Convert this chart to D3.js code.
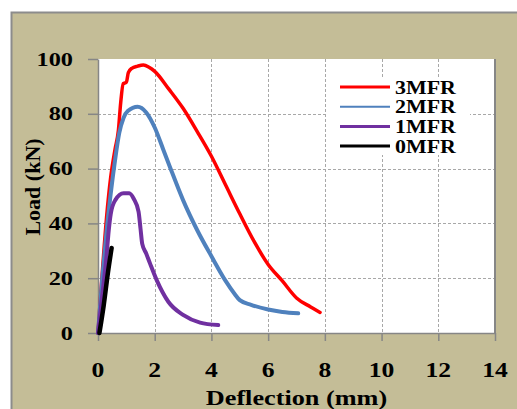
<!DOCTYPE html>
<html>
<head>
<meta charset="utf-8">
<script src="https://cdn.jsdelivr.net/npm/d3@7"></script>
<style>
  html, body { margin: 0; padding: 0; background: #ffffff; }
  svg { display: block; }
  text { font-family: "Liberation Serif", "Times New Roman", serif; font-weight: bold; fill: #000; }
</style>
</head>
<body>
<svg id="chart" width="517" height="409"></svg>
<script>
// Load–deflection curves, one array per specimen: [deflection (mm), load (kN)]
const mfr3 = [[0,0],[0.15,22],[0.3,42],[0.45,57],[0.6,67],[0.72,74],[0.8,84],[0.89,91],[1.0,91.5],[1.07,95],[1.19,96.6],[1.4,97.4],[1.6,97.8],[1.8,97],[2.0,95.5],[2.5,89],[3.0,82],[3.5,73.5],[4.0,64.5],[4.5,54],[5.0,43.5],[5.5,33.5],[6.0,25],[6.5,19],[7.0,12.8],[7.5,9.5],[7.83,7.5]];
const mfr2 = [[0,0],[0.15,20],[0.3,37],[0.45,51],[0.6,63],[0.75,73],[0.9,78.5],[1.05,81],[1.4,82.6],[1.7,80.5],[2.0,75],[2.3,67],[2.54,60.5],[3.0,48.5],[3.5,37.5],[4.0,28],[4.5,19],[4.8,14.5],[5.0,12],[5.4,10.3],[6.0,8.6],[6.5,7.7],[7.06,7.2]];
const mfr1 = [[0,0],[0.14,13],[0.3,28],[0.38,37.6],[0.45,43.5],[0.61,48.5],[0.9,51],[1.1,51],[1.26,49],[1.43,44.3],[1.5,38],[1.56,32.5],[1.7,29],[1.83,25.5],[2.07,19.3],[2.48,11.4],[3.0,6.6],[3.6,3.8],[4.24,2.9]];
const mfr0 = [[0.05,0],[0.2,10],[0.35,22],[0.48,31]];

const seriesNames = ["3MFR", "2MFR", "1MFR", "0MFR"];
const seriesData = [mfr3, mfr2, mfr1, mfr0];
const seriesColors = ["#ff0000", "#4f81bd", "#7030a0", "#000000"];

const xTicks = [0, 2, 4, 6, 8, 10, 12, 14];
const yTicks = [0, 20, 40, 60, 80, 100];
const xTitle = "Deflection (mm)";
const yTitle = "Load (kN)";

const svg = d3.select("#chart");
const W = 517, H = 409;
const plot = { left: 98, right: 495, top: 59, bottom: 333 };
const stretch = 1.28; // wide-set lettering

// Outer chart area
svg.append("rect").attr("x", 11).attr("y", 12).attr("width", W - 11).attr("height", H - 12)
  .attr("fill", "#c4bd97");
svg.append("path").attr("d", `M11.5,${H} L11.5,12.5 L${W},12.5`)
  .attr("fill", "none").attr("stroke", "#8c8c8c").attr("stroke-width", 2);

// Plot area
svg.append("rect").attr("x", plot.left).attr("y", plot.top)
  .attr("width", plot.right - plot.left).attr("height", plot.bottom - plot.top)
  .attr("fill", "#ffffff");

const x = d3.scaleLinear().domain([0, 14]).range([plot.left, plot.right]);
const y = d3.scaleLinear().domain([0, 100]).range([plot.bottom, plot.top]);

// Dashed gridlines
const grid = svg.append("g").attr("stroke", "#a8a8a8").attr("stroke-width", 1).attr("stroke-dasharray", "3,2");
xTicks.filter(t => t > 0 && t < 14).forEach(t => {
  grid.append("line").attr("x1", Math.round(x(t)) + 0.5).attr("x2", Math.round(x(t)) + 0.5)
    .attr("y1", plot.top).attr("y2", plot.bottom);
});
yTicks.filter(t => t > 0 && t < 100).forEach(t => {
  grid.append("line").attr("y1", Math.round(y(t)) + 0.5).attr("y2", Math.round(y(t)) + 0.5)
    .attr("x1", plot.left).attr("x2", plot.right);
});

// Axes with outward ticks
const axisColor = "#868686";
const yAxis = svg.append("g").attr("transform", `translate(${plot.left},0)`)
  .call(d3.axisLeft(y).tickValues(yTicks).tickSize(10).tickSizeOuter(0).tickFormat(""));
const xAxis = svg.append("g").attr("transform", `translate(0,${plot.bottom})`)
  .call(d3.axisBottom(x).tickValues(xTicks).tickSize(8).tickSizeOuter(0).tickFormat(""));
[xAxis, yAxis].forEach(a => {
  a.selectAll("path, line").attr("stroke", axisColor).attr("stroke-width", 1.5);
});
svg.append("line").attr("x1", plot.right).attr("x2", plot.right)
  .attr("y1", plot.top).attr("y2", plot.bottom)
  .attr("stroke", axisColor).attr("stroke-width", 2);

// Tick labels
yTicks.forEach(t => {
  svg.append("text")
    .attr("transform", `translate(73,${y(t) + 6.5}) scale(${stretch},1)`)
    .attr("text-anchor", "end").attr("font-size", 19).text(t);
});
xTicks.forEach(t => {
  svg.append("text")
    .attr("transform", `translate(${x(t)},377) scale(${stretch},1)`)
    .attr("text-anchor", "middle").attr("font-size", 20).text(t);
});

// Axis titles
svg.append("text")
  .attr("transform", `translate(${(plot.left + plot.right) / 2},405) scale(1.25,1)`)
  .attr("text-anchor", "middle").attr("font-size", 21).text(xTitle);
svg.append("text")
  .attr("transform", `translate(40,187) rotate(-90)`)
  .attr("text-anchor", "middle").attr("font-size", 22).text(yTitle);

// Curves
const line = d3.line().x(d => x(d[0])).y(d => y(d[1])).curve(d3.curveMonotoneX);
const widths = [3.5, 4, 4, 4.5];
seriesData.forEach((data, i) => {
  svg.append("path").datum(data)
    .attr("d", line)
    .attr("fill", "none")
    .attr("stroke", seriesColors[i])
    .attr("stroke-width", widths[i])
    .attr("stroke-linejoin", "round")
    .attr("stroke-linecap", "round");
});

// Legend
const legend = svg.append("g");
legend.append("rect").attr("x", 327).attr("y", 78).attr("width", 143).attr("height", 77).attr("fill", "#ffffff");
const legendWidths = [3, 2, 3, 3];
seriesNames.forEach((name, i) => {
  const ly = 87 + i * 19.7;
  legend.append("line").attr("x1", 340).attr("x2", 390).attr("y1", ly).attr("y2", ly)
    .attr("stroke", seriesColors[i]).attr("stroke-width", legendWidths[i]);
  legend.append("text")
    .attr("transform", `translate(395,${ly + 6.5}) scale(1.22,1)`)
    .attr("font-size", 18).text(name);
});
</script>
</body>
</html>
